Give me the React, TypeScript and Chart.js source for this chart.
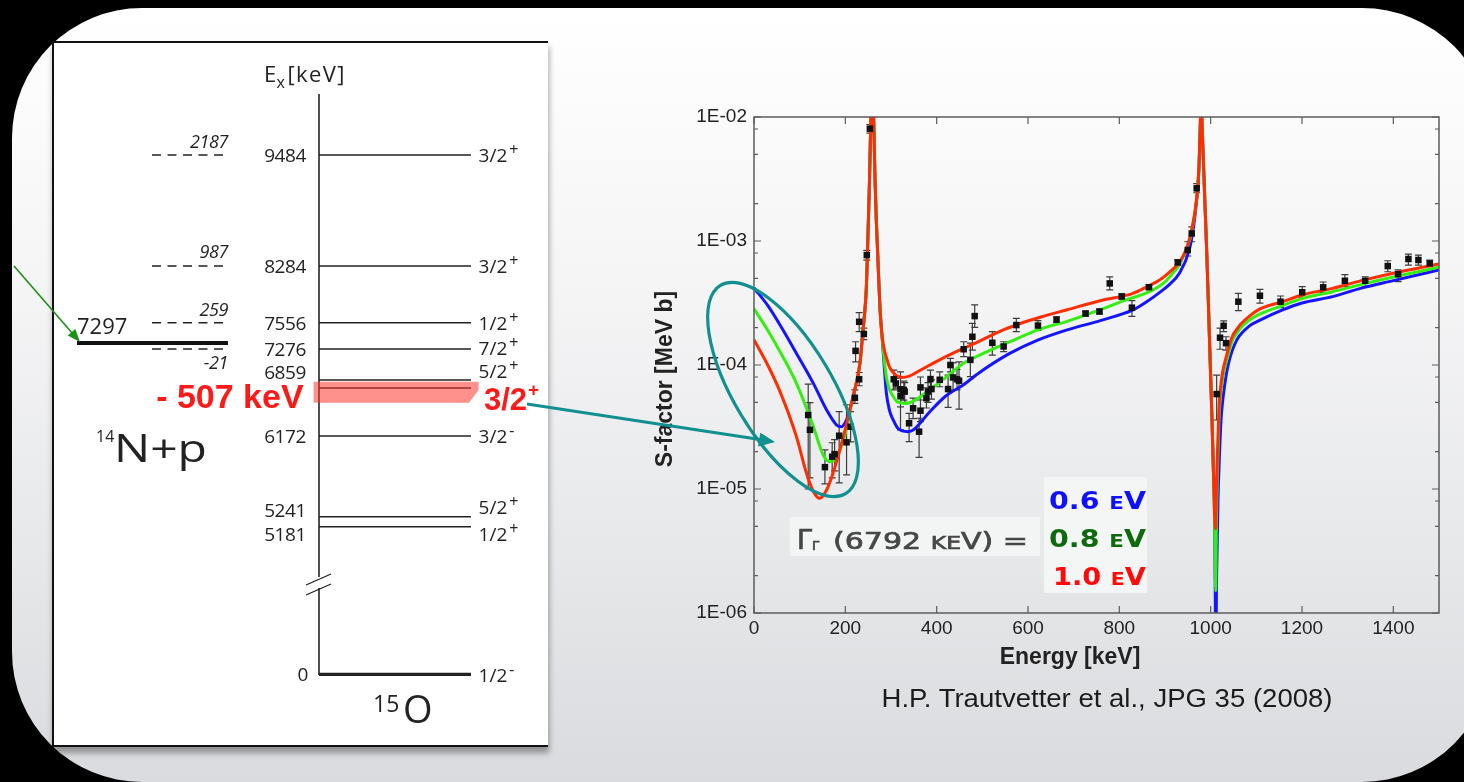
import React, { useEffect, useRef } from 'react';
import { Chart, registerables } from 'chart.js';

Chart.register(...registerables);

// ---------------- axis ticks ----------------
const xTickValues = [0, 200, 400, 600, 800, 1000, 1200, 1400];
const xTickLabels = ['0', '200', '400', '600', '800', '1000', '1200', '1400'];
const yTickValues = [1e-6, 1e-5, 1e-4, 1e-3, 1e-2];
const yTickLabels = ['1E-06', '1E-05', '1E-04', '1E-03', '1E-02'];
const yMinorTicks = [2e-6, 5e-6, 8e-6, 2e-5, 5e-5, 8e-5, 2e-4, 5e-4, 8e-4, 2e-3, 5e-3, 8e-3];

// ---------------- measured data (E [keV], S [MeV b], error low / high) ----------------
const dataE = [118.7, 122.5, 155.3, 171.2, 176.5, 186.5, 202.7, 211.5, 220.9, 230.3, 222.4, 230.3, 240.5, 247, 253.7,
  306, 310.5, 320.8, 320.8, 328, 330, 339.6, 348.4, 361.5, 364.5, 364.5, 377.6, 381, 386.4, 388.6, 406.7, 425, 430, 435.9, 444.6, 449, 459.2, 473.8, 478.2, 483.3, 521.9, 546.7,
  574.4, 621.8, 662.5, 726, 756.6, 779, 805.4, 827.6, 865, 928, 949.8, 958.5, 969.4,
  1013.1, 1020.5, 1028.4, 1033.6, 1060.6, 1107.9, 1153, 1200.5, 1246.4, 1293.9, 1338.3, 1387.8, 1410.4, 1433, 1454.9, 1479.7];
const dataS = [3.95e-5, 3.0e-5, 1.5e-5, 1.82e-5, 1.91e-5, 2.69e-5, 2.38e-5, 3.18e-5, 5.44e-5, 7.67e-5, 1.3e-4, 2.23e-4, 1.78e-4, 7.7e-4, 8.05e-3,
  7.67e-5, 7.1e-5, 6.37e-5, 5.6e-5, 6.3e-5, 6.1e-5, 3.39e-5, 4.48e-5, 2.9e-5, 4.28e-5, 6.6e-5, 5.4e-5, 6.1e-5, 7.7e-5, 6.4e-5, 7.6e-5, 6.4e-5, 1.0e-4, 7.94e-5, 7.67e-5, 7.47e-5, 1.34e-4, 1.1e-4, 1.69e-4, 2.48e-4, 1.51e-4, 1.41e-4,
  2.1e-4, 2.08e-4, 2.32e-4, 2.6e-4, 2.7e-4, 4.55e-4, 3.57e-4, 2.9e-4, 4.24e-4, 6.72e-4, 8.45e-4, 1.15e-3, 2.66e-3,
  5.83e-5, 1.66e-4, 2.07e-4, 1.5e-4, 3.24e-4, 3.62e-4, 3.24e-4, 3.86e-4, 4.23e-4, 4.78e-4, 4.78e-4, 6.28e-4, 5.4e-4, 7.16e-4, 7.03e-4, 6.6e-4];
const dataErrLo = [1.0e-5, 1.23e-5, 1.1e-5, 1.23e-5, 1.4e-5, 1.12e-5, 1.3e-5, 2.4e-5, 4.9e-5, 6.8e-5, 1.06e-4, 1.86e-4, 1.6e-4, 7.0e-4, 7.4e-3,
  6.3e-5, 6.5e-5, 3.0e-5, 4.6e-5, 5.2e-5, 5.0e-5, 2.41e-5, 3.7e-5, 1.8e-5, 3.49e-5, 5.22e-5, 4.5e-5, 5.0e-5, 6.3e-5, 5.3e-5, 6.68e-5, 4.56e-5, 8.8e-5, 6.3e-5, 6.3e-5, 4.4e-5, 1.17e-4, 8.05e-5, 1.32e-4, 2.01e-4, 1.2e-4, 1.28e-4,
  1.86e-4, 1.9e-4, 2.2e-4, 2.48e-4, 2.58e-4, 4.03e-4, 3.4e-4, 2.47e-4, 4.05e-4, 6.4e-4, 7.57e-4, 9.86e-4, 2.45e-3,
  3.6e-5, 1.34e-4, 1.86e-4, 1.32e-4, 2.74e-4, 3.15e-4, 2.9e-4, 3.52e-4, 3.83e-4, 4.28e-4, 4.28e-4, 5.65e-4, 4.7e-4, 6.4e-4, 6.4e-4, 6.2e-4];
const dataErrHi = [7.0e-5, 4.97e-5, 2.07e-5, 2.36e-5, 2.5e-5, 4.2e-5, 4.78e-5, 4.2e-5, 6.3e-5, 8.7e-5, 1.54e-4, 2.64e-4, 1.98e-4, 8.4e-4, 8.7e-3,
  9.1e-5, 7.8e-5, 8.8e-5, 6.6e-5, 7.4e-5, 7.2e-5, 4.07e-5, 5.4e-5, 3.72e-5, 5.22e-5, 8.0e-5, 6.53e-5, 7.2e-5, 9.1e-5, 7.6e-5, 8.8e-5, 8.3e-5, 1.13e-4, 1.04e-4, 9.2e-5, 1.06e-4, 1.54e-4, 1.5e-4, 2.17e-4, 3.05e-4, 1.86e-4, 1.54e-4,
  2.38e-4, 2.28e-4, 2.45e-4, 2.72e-4, 2.83e-4, 5.13e-4, 3.75e-4, 3.31e-4, 4.45e-4, 7.05e-4, 9.86e-4, 1.3e-3, 2.9e-3,
  8.3e-5, 1.98e-4, 2.27e-4, 1.69e-4, 3.78e-4, 4.07e-4, 3.6e-4, 4.28e-4, 4.67e-4, 5.35e-4, 5.15e-4, 6.93e-4, 5.86e-4, 7.85e-4, 7.7e-4, 7.0e-4];

// ---------------- R-matrix curves ----------------
// shared parts (the curves coincide through the two resonances)
const resonance1E = [210, 217, 232, 238, 243, 246, 248, 250, 253, 256, 259, 262, 265, 268, 270, 273, 276, 280];
const resonance1S = [4.37e-5, 5.55e-5, 1.03e-4, 1.78e-4, 2.82e-4, 4.17e-4, 7.08e-4, 1.26e-3, 3.16e-3, 1.0e-2, 2.0e-2, 1.0e-2, 3.16e-3, 1.41e-3, 9.55e-4, 5.01e-4, 2.82e-4, 1.78e-4];
const resonance2E = [977, 979, 982, 985, 988, 991, 995, 999, 1003, 1006, 1008.5];
const resonance2S = [7.94e-3, 1.3e-2, 7.08e-3, 3.55e-3, 1.78e-3, 8.91e-4, 3.16e-4, 1.05e-4, 3.55e-5, 1.41e-5, 6.31e-6];

// 0.6 eV (blue)
const blueLowE = [0, 30, 57, 93, 130, 159, 181, 192, 199, 204];
const blueLowS = [4.18e-4, 3.02e-4, 2.10e-4, 1.24e-4, 7.11e-5, 4.34e-5, 3.28e-5, 3.18e-5, 3.39e-5, 3.72e-5];
const blueMidE = [285, 290, 297, 305, 315, 337.5, 350, 385, 420, 458, 494, 560, 620, 684, 760, 830, 860, 890, 910, 931.5, 953, 962, 968, 974];
const blueMidS = [1.0e-4, 5.89e-5, 4.27e-5, 3.6e-5, 3.09e-5, 2.90e-5, 3.02e-5, 4.2e-5, 5.62e-5, 6.9e-5, 8.71e-5, 1.24e-4, 1.58e-4, 1.91e-4, 2.29e-4, 2.78e-4, 3.24e-4, 3.89e-4, 4.47e-4, 5.50e-4, 8.45e-4, 1.26e-3, 1.91e-3, 3.55e-3];
const blueHighE = [1010, 1011, 1013, 1016, 1019, 1022.7, 1026, 1030, 1036, 1043, 1052, 1062, 1085, 1107, 1157.5, 1200, 1267, 1330, 1400, 1500];
const blueHighS = [1.58e-6, 3.98e-7, 2.0e-6, 7.94e-6, 1.78e-5, 3.6e-5, 5.01e-5, 6.61e-5, 9.12e-5, 1.17e-4, 1.45e-4, 1.70e-4, 2.07e-4, 2.29e-4, 2.78e-4, 3.16e-4, 3.56e-4, 4.17e-4, 4.79e-4, 5.83e-4];

// 0.8 eV (green)
const greenLowE = [0, 30, 57, 93, 130, 151.5, 166, 181, 190, 199, 205];
const greenLowS = [2.84e-4, 1.91e-4, 1.28e-4, 7.11e-5, 3.18e-5, 1.88e-5, 1.66e-5, 1.77e-5, 2.14e-5, 2.72e-5, 3.47e-5];
const greenMidE = [285, 290, 297, 305, 315, 334, 350, 385, 420, 458, 494, 560, 625, 684, 757, 810, 866, 900, 917, 932, 946, 957, 968, 974];
const greenMidS = [1.12e-4, 7.94e-5, 6.31e-5, 5.55e-5, 5.01e-5, 4.90e-5, 5.13e-5, 6.31e-5, 7.94e-5, 1.03e-4, 1.20e-4, 1.54e-4, 1.94e-4, 2.24e-4, 2.78e-4, 3.31e-4, 3.90e-4, 4.68e-4, 5.50e-4, 6.46e-4, 8.45e-4, 1.12e-3, 2.0e-3, 3.72e-3];
const greenHighE = [1010, 1011, 1012.5, 1015, 1018.2, 1020, 1023, 1027, 1031, 1036, 1042, 1049, 1058, 1068, 1085, 1107, 1157.5, 1200, 1267, 1330, 1400, 1500];
const greenHighS = [2.51e-6, 1.51e-6, 5.01e-6, 1.41e-5, 3.6e-5, 4.79e-5, 6.31e-5, 8.13e-5, 9.55e-5, 1.12e-4, 1.35e-4, 1.62e-4, 1.82e-4, 2.04e-4, 2.31e-4, 2.57e-4, 3.02e-4, 3.43e-4, 3.90e-4, 4.47e-4, 5.13e-4, 6.14e-4];

// 1.0 eV (red)
const redLowE = [0, 30, 57, 93, 115, 130, 144, 159, 173, 188, 203];
const redLowS = [1.60e-4, 1.0e-4, 6.10e-5, 2.64e-5, 1.34e-5, 9.55e-6, 8.41e-6, 9.82e-6, 1.34e-5, 2.07e-5, 3.39e-5];
const redMidE = [285, 290, 297, 305, 314, 323, 340, 360, 385, 420, 458, 494, 540, 580, 630, 684, 760, 830, 860, 890, 910, 935, 950, 960, 968, 974];
const redMidS = [1.35e-4, 1.15e-4, 9.55e-5, 8.71e-5, 8.13e-5, 7.94e-5, 8.13e-5, 8.91e-5, 1.0e-4, 1.17e-4, 1.36e-4, 1.56e-4, 1.88e-4, 2.14e-4, 2.45e-4, 2.78e-4, 3.31e-4, 3.78e-4, 4.27e-4, 4.90e-4, 5.62e-4, 7.03e-4, 9.33e-4, 1.32e-3, 2.01e-3, 3.72e-3];
const redHighE = [1010.5, 1012.5, 1014.5, 1017, 1019, 1022, 1026, 1030, 1035, 1041, 1048, 1056, 1066, 1085, 1107, 1157.5, 1200, 1267, 1330, 1400, 1500];
const redHighS = [4.79e-6, 1.0e-5, 1.78e-5, 3.31e-5, 5.01e-5, 6.76e-5, 8.71e-5, 1.02e-4, 1.20e-4, 1.45e-4, 1.72e-4, 1.91e-4, 2.14e-4, 2.48e-4, 2.82e-4, 3.24e-4, 3.67e-4, 4.15e-4, 4.79e-4, 5.50e-4, 6.53e-4];

const xTitle = 'Energy [keV]';
const yTitle = 'S-factor [MeV b]';
const legendWidths = ['0.6', '0.8', '1.0'];

// ---------------- level scheme (15O) ----------------
const levelEnergies = ['9484', '8284', '7556', '7276', '6859', '6792', '6172', '5241', '5181', '0'];
const levelSpins = ['3/2', '3/2', '1/2', '7/2', '5/2', '3/2', '3/2', '5/2', '1/2', '1/2'];
const levelParities = ['+', '+', '+', '+', '+', '+', '-', '+', '+', '-'];
const thresholdLabels = ['2187', '987', '259', '-21'];

// layout of the level scheme (page pixels)
const levelY = [155, 266, 322.7, 349, 380, 388, 436, 516.7, 526.7, 674.3];
const levelLabelY = [155.5, 266, 323, 349, 372, 395, 436, 509.7, 534, 674];
const spinLabelY = [155, 266, 322.7, 348, 371, 398, 436, 507.5, 534, 675];
const thresholdY = [155, 266, 322.7, 349];
const thresholdLabelY = [141.7, 251.7, 310, 363];

const FONT = '"Liberation Sans", Arial, Helvetica, sans-serif';
const DIA = '"Open Sans", "Noto Sans", sans-serif';
const DEJA = '"DejaVu Sans", sans-serif';

const toXY = (xs: number[], ys: number[]) => xs.map((x, i) => ({ x, y: ys[i] }));

const decorPlugin = {
  id: 'decor',
  beforeDatasetsDraw(chart: any) {
    const { ctx, chartArea: a, scales } = chart;
    const x = scales.x, y = scales.y;
    ctx.save();
    ctx.beginPath();
    ctx.rect(a.left, a.top, a.right - a.left, a.bottom - a.top);
    ctx.clip();
    ctx.strokeStyle = '#3d3d3d';
    ctx.lineWidth = 1.2;
    ctx.beginPath();
    for (let i = 0; i < dataE.length; i++) {
      const px = x.getPixelForValue(dataE[i]);
      const y1 = y.getPixelForValue(dataErrLo[i]);
      const y2 = y.getPixelForValue(dataErrHi[i]);
      ctx.moveTo(px, y1); ctx.lineTo(px, y2);
      ctx.moveTo(px - 3.5, y1); ctx.lineTo(px + 3.5, y1);
      ctx.moveTo(px - 3.5, y2); ctx.lineTo(px + 3.5, y2);
    }
    ctx.stroke();
    ctx.restore();
  },
  afterDatasetsDraw(chart: any) {
    const { ctx, chartArea: a, scales } = chart;
    const x = scales.x, y = scales.y;
    ctx.save();
    ctx.strokeStyle = '#5c5c5c';
    ctx.lineWidth = 1.5;
    ctx.strokeRect(a.left, a.top, a.right - a.left, a.bottom - a.top);
    ctx.lineWidth = 1.2;
    ctx.beginPath();
    for (const v of xTickValues) {
      const px = x.getPixelForValue(v);
      ctx.moveTo(px, a.bottom); ctx.lineTo(px, a.bottom - 7);
      ctx.moveTo(px, a.top); ctx.lineTo(px, a.top + 7);
    }
    for (const v of yTickValues) {
      const py = y.getPixelForValue(v);
      ctx.moveTo(a.left, py); ctx.lineTo(a.left + 7, py);
      ctx.moveTo(a.right, py); ctx.lineTo(a.right - 7, py);
    }
    for (const v of yMinorTicks) {
      const py = y.getPixelForValue(v);
      ctx.moveTo(a.left, py); ctx.lineTo(a.left + 4, py);
      ctx.moveTo(a.right, py); ctx.lineTo(a.right - 4, py);
    }
    ctx.stroke();
    ctx.restore();
  },
  afterDraw(chart: any) {
    const { ctx, chartArea: a } = chart;
    ctx.save();
    ctx.fillStyle = '#222';
    ctx.font = `bold 23px ${FONT}`;
    ctx.textAlign = 'center';
    ctx.textBaseline = 'middle';
    ctx.fillText(xTitle, a.left + 316, a.bottom + 45);
    ctx.translate(a.left - 88, a.top + 262);
    ctx.rotate(-Math.PI / 2);
    ctx.fillText(yTitle, 0, 0);
    ctx.restore();
  },
};

function PlotChart() {
  const ref = useRef<HTMLCanvasElement>(null);
  useEffect(() => {
    if (!ref.current) return;
    const chart = new Chart(ref.current, {
      type: 'scatter',
      data: {
        datasets: [
          {
            label: 'data', data: toXY(dataE, dataS), showLine: false, pointStyle: 'rect',
            pointRadius: 4.6, backgroundColor: '#111', borderColor: '#111', borderWidth: 0, order: 0,
          },
          {
            label: '1.0 eV', data: toXY([...redLowE, ...resonance1E, ...redMidE, ...resonance2E, ...redHighE],
              [...redLowS, ...resonance1S, ...redMidS, ...resonance2S, ...redHighS]),
            showLine: true, borderColor: '#ff2d00', borderWidth: 3, pointRadius: 0,
            cubicInterpolationMode: 'monotone', order: 1,
          },
          {
            label: '0.8 eV', data: toXY([...greenLowE, ...resonance1E, ...greenMidE, ...resonance2E, ...greenHighE],
              [...greenLowS, ...resonance1S, ...greenMidS, ...resonance2S, ...greenHighS]),
            showLine: true, borderColor: '#33ee10', borderWidth: 3, pointRadius: 0,
            cubicInterpolationMode: 'monotone', order: 2,
          },
          {
            label: '0.6 eV', data: toXY([...blueLowE, ...resonance1E, ...blueMidE, ...resonance2E, ...blueHighE],
              [...blueLowS, ...resonance1S, ...blueMidS, ...resonance2S, ...blueHighS]),
            showLine: true, borderColor: '#1414ff', borderWidth: 3, pointRadius: 0,
            cubicInterpolationMode: 'monotone', order: 3,
          },
        ] as any,
      },
      options: {
        animation: false,
        responsive: false,
        devicePixelRatio: 1,
        events: [],
        layout: { padding: { top: 27, right: 21, bottom: 0, left: 0 } },
        plugins: { legend: { display: false }, tooltip: { enabled: false } },
        scales: {
          x: {
            type: 'linear', min: 0, max: 1500,
            afterBuildTicks: (s: any) => { s.ticks = xTickValues.map((v) => ({ value: v })); },
            afterFit: (s: any) => { s.height = 77; },
            grid: { display: false, drawTicks: false }, border: { display: false },
            ticks: {
              padding: 4, color: '#222', font: { family: FONT, size: 19 }, maxRotation: 0, autoSkip: false,
              callback: (_v: any, i: number) => xTickLabels[i],
            },
          },
          y: {
            type: 'logarithmic', min: 1e-6, max: 1e-2,
            afterBuildTicks: (s: any) => { s.ticks = yTickValues.map((v) => ({ value: v })); },
            afterFit: (s: any) => { s.width = 124; },
            grid: { display: false, drawTicks: false }, border: { display: false },
            ticks: {
              padding: 7, color: '#222', font: { family: FONT, size: 19 }, autoSkip: false,
              callback: (_v: any, i: number) => yTickLabels[i],
            },
          },
        },
      } as any,
      plugins: [decorPlugin],
    });
    return () => chart.destroy();
  }, []);
  return (
    <canvas ref={ref} width={830} height={600}
      style={{ position: 'absolute', left: 630, top: 90, width: 830, height: 600 }} />
  );
}

function Overlay() {
  const sup = (p: string, size: number, dy: number) => (
    <tspan fontSize={size} dx={2} dy={dy}>{p}</tspan>
  );
  return (
    <svg width={1464} height={782} style={{ position: 'absolute', left: 0, top: 0 }}>
      {/* ---------- level scheme ---------- */}
      <g fontFamily={DIA} fill="#222">
        <text x={264} y={81.7} fontSize={22}>E</text>
        <text x={276.5} y={88} fontSize={16}>x</text>
        <text x={287.5} y={81.7} fontSize={22} textLength={57}>[keV]</text>
      </g>
      <g stroke="#222" strokeWidth={1.6}>
        <line x1={319} y1={94} x2={319} y2={577} />
        <line x1={319} y1={588} x2={319} y2={675} />
        <line x1={306} y1={585} x2={331} y2={574} strokeWidth={1.3} />
        <line x1={306} y1={595} x2={331} y2={584} strokeWidth={1.3} />
        {levelY.map((y, i) => (
          <line key={i} x1={319} y1={y} x2={471} y2={y} strokeWidth={i === levelY.length - 1 ? 3.2 : 1.6} />
        ))}
        {thresholdY.map((y, i) => (
          <line key={'t' + i} x1={152} y1={y} x2={229} y2={y} strokeDasharray="9 6.5" strokeWidth={1.4} />
        ))}
        <line x1={77} y1={343} x2={228} y2={343} strokeWidth={4} stroke="#111" />
      </g>
      <g fontFamily={DIA} fill="#222" fontSize={19}>
        {levelEnergies.map((e, i) => (i === 5 ? null : (
          <text key={i} x={i === levelEnergies.length - 1 ? 308 : 306} y={levelLabelY[i] + 6.8} textAnchor="end" letterSpacing={-0.4}>{e}</text>
        )))}
        {levelSpins.map((s, i) => (i === 5 ? null : (
          <text key={'s' + i} x={478.6} y={spinLabelY[i] + 6.8}>{s}{sup(levelParities[i], 16, -7)}</text>
        )))}
        {thresholdLabels.map((t, i) => (
          <text key={'l' + i} x={228} y={thresholdLabelY[i] + 6.4} textAnchor="end" fontStyle="italic" fontSize={18} letterSpacing={-0.4}>{t}</text>
        ))}
        <text x={77} y={334.4} fontSize={22}>7297</text>
        <text x={96} y={442} fontSize={16}>14</text>
        <text x={114} y={461.7} fontSize={39} textLength={93} lengthAdjust="spacingAndGlyphs">N+p</text>
        <text x={373} y={712} fontSize={23}>15</text>
        <text x={403} y={723} fontSize={38}>O</text>
      </g>
      {/* highlighted 6792 keV level */}
      <path d="M313.6,381.7 H478.6 V390 L469,402.7 H313.6 Z" fill="rgba(255,55,45,0.55)" />
      <text x={303.6} y={408.3} textAnchor="end" fontFamily={FONT} fontWeight="bold" fontSize={34} fill="#ff1a1a">- 507 keV</text>
      <text x={484} y={410} fontFamily={FONT} fontWeight="bold" fontSize={31} fill="#ff1a1a">{levelSpins[5]}</text>
      <text x={528} y={396} fontFamily={FONT} fontWeight="bold" fontSize={19} fill="#ff1a1a">{levelParities[5]}</text>

      {/* green arrow to 7297 */}
      <line x1={14} y1={266} x2={73} y2={334} stroke="#1d8f1d" strokeWidth={1.6} />
      <polygon points="80,342 67.7,335.5 75.3,328.9" fill="#1d8f1d" />

      {/* teal arrow and ellipse */}
      <line x1={527} y1={404} x2={760} y2={439.6} stroke="#128f8f" strokeWidth={3} />
      <polygon points="775,442 758.1,446.5 760.3,432.7" fill="#128f8f" />
      <ellipse cx={783} cy={389.5} rx={121.5} ry={49} transform="rotate(59 783 389.5)" fill="none" stroke="#128f8f" strokeWidth={3.2} />

      {/* legend */}
      <rect x={790} y={517} width={250} height={39} fill="#f3f4f4" />
      <rect x={1044} y={477} width={103} height={116} fill="#f4f5f5" />
      <g fontFamily={DEJA} fill="#474747" stroke="#474747" strokeWidth={0.7}>
        <text x={797} y={549} fontSize={27}>Γ</text>
        <text x={812} y={550} fontSize={13}>Γ</text>
        <text x={833} y={549} fontSize={23} textLength={195} lengthAdjust="spacingAndGlyphs">(6792 <tspan fontSize={18}>KE</tspan>V) =</text>
      </g>
      <g fontFamily={DEJA} fontWeight="bold" fontSize={24}>
        <text x={1049} y={509.3} fill="#1010ff" textLength={97} lengthAdjust="spacingAndGlyphs">{legendWidths[0]} <tspan fontSize={18}>E</tspan>V</text>
        <text x={1049} y={546.7} fill="#0d6b0d" textLength={97} lengthAdjust="spacingAndGlyphs">{legendWidths[1]} <tspan fontSize={18}>E</tspan>V</text>
        <text x={1053} y={585} fill="#ff0a0a" textLength={93} lengthAdjust="spacingAndGlyphs">{legendWidths[2]} <tspan fontSize={18}>E</tspan>V</text>
      </g>
      <text x={881.5} y={706.5} fontFamily={FONT} fontSize={25} fill="#1c1c1c" textLength={451} lengthAdjust="spacingAndGlyphs">H.P. Trautvetter et al., JPG 35 (2008)</text>
    </svg>
  );
}

export default function App() {
  return (
    <div style={{ position: 'fixed', left: 0, top: 0, width: 1464, height: 782, background: '#000', overflow: 'hidden' }}>
      <div style={{
        position: 'absolute', left: 12, top: 8, width: 1480, height: 774, borderRadius: 130,
        background: 'linear-gradient(180deg, #ffffff 0%, #f5f5f6 35%, #e7e8ea 70%, #dadbde 100%)',
      }} />
      <div style={{
        position: 'absolute', left: 52, top: 41, width: 496, height: 706, boxSizing: 'border-box',
        background: '#fff', borderLeft: '2px solid #111', borderTop: '2px solid #111', borderBottom: '2px solid #111',
        boxShadow: '1px 6px 6px rgba(0,0,0,0.35)',
      }} />
      <PlotChart />
      <Overlay />
    </div>
  );
}
